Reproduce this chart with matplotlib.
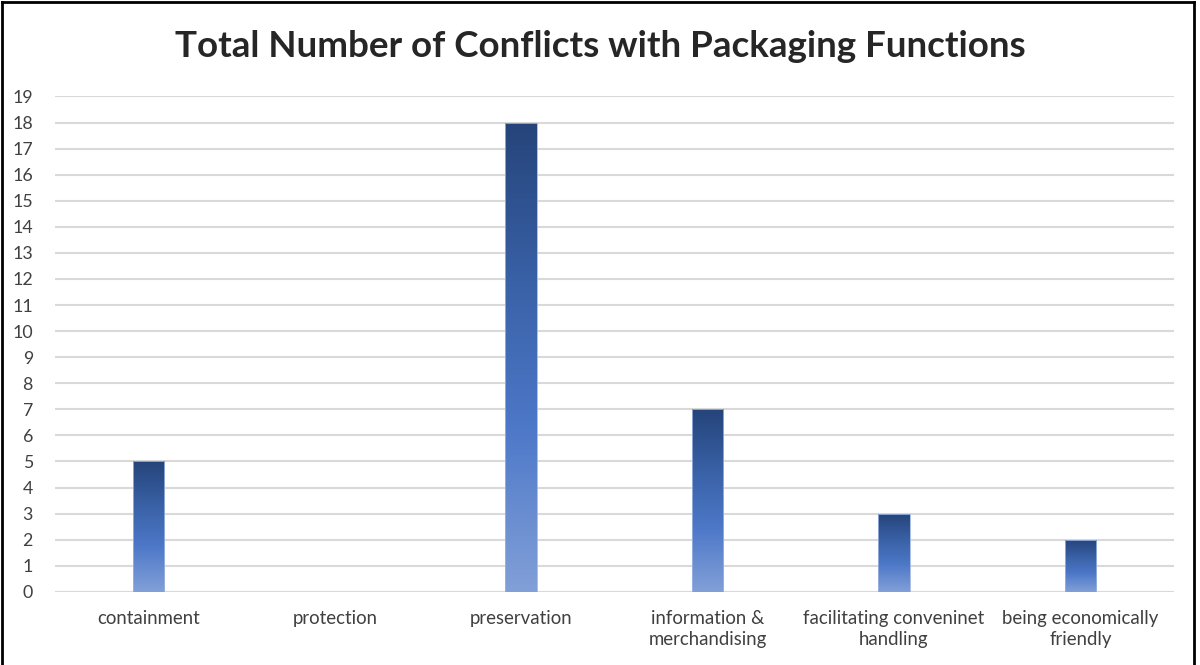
import numpy as np
import matplotlib.pyplot as plt
from matplotlib.colors import LinearSegmentedColormap
from matplotlib.lines import Line2D

# data
categories = ['containment', 'protection', 'preservation', 'information &\nmerchandising',
              'facilitating conveninet\nhandling', 'being economically\nfriendly']
counts = [5, 0, 18, 7, 3, 2]
y_ticks = list(range(0, 20))

plt.rcParams['font.family'] = ['Lato', 'DejaVu Sans']

fig = plt.figure(figsize=(12, 6.65), dpi=100)
ax = fig.add_axes([0.046, 0.11, 0.932, 0.745])

# gradient: light at bottom -> dark navy at top
cmap = LinearSegmentedColormap.from_list('bar_grad', [(0.0, '#82A0D8'), (0.35, '#4D78C8'),
                                                      (0.65, '#3A62A8'), (1.0, '#25447A')])
grad = np.linspace(0, 1, 256).reshape(-1, 1)

x = np.arange(len(categories))
width = 0.17
bars = ax.bar(x, counts, width=width, color='none', edgecolor='#9DB3E0', linewidth=0.6, zorder=3)
for b, c in zip(bars, counts):
    if c == 0:
        continue
    x0 = b.get_x()
    im = ax.imshow(grad, cmap=cmap, origin='lower', aspect='auto',
                   extent=(x0, x0 + width, 0, c), zorder=2)
    im.set_clip_path(b)

ax.set_xlim(-0.5, len(categories) - 0.5)
ax.set_ylim(0, 19)
ax.set_yticks(y_ticks)
ax.set_xticks(x)
ax.set_xticklabels(categories, fontsize=13.4, color='#404040', linespacing=1.3)
ax.tick_params(axis='y', labelsize=12.8, labelcolor='#404040', length=0, pad=16)
ax.tick_params(axis='x', length=0, pad=13)
ax.grid(axis='y', color='#D9D9D9', linewidth=1.5, zorder=0)
ax.set_axisbelow(True)
for s in ax.spines.values():
    s.set_visible(False)
ax.axhline(0, color='#D9D9D9', linewidth=1.5, zorder=1)

fig.suptitle('Total Number of Conflicts with Packaging Functions', fontsize=26.5,
             fontweight='bold', color='#262626', y=0.955)

# outer frame
for xs, ys in [([0.002, 0.002], [0, 0.997]), ([0.002, 0.995], [0.997, 0.997]),
               ([0.995, 0.995], [0, 0.997])]:
    fig.add_artist(Line2D(xs, ys, color='black', linewidth=2, transform=fig.transFigure))

fig.savefig('out.png', dpi=100)
